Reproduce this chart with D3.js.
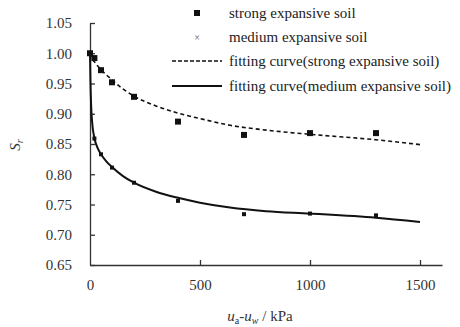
<!DOCTYPE html>
<html>
<head>
<meta charset="utf-8">
<script src="https://cdn.jsdelivr.net/npm/d3@7"></script>
<style>
  body { margin: 0; background: #fff; }
</style>
</head>
<body>
<div id="wrapper"></div>
<script>
// measured points (suction kPa, Sr)
const suction = [0, 20, 50, 100, 200, 400, 700, 1000, 1300];
const strongSr = [1.0, 0.992, 0.972, 0.952, 0.928, 0.887, 0.865, 0.868, 0.868];
const mediumSr = [1.0, 0.859, 0.833, 0.811, 0.786, 0.756, 0.734, 0.735, 0.732];

// fitting curves
const fitX = [0, 2, 5, 10, 20, 35, 50, 75, 100, 150, 200, 300, 400, 500, 636, 800, 1000, 1300, 1500];
const fitStrong = [1.0, 0.998, 0.995, 0.991, 0.986, 0.979, 0.973, 0.964, 0.956, 0.941, 0.929, 0.913, 0.901, 0.892, 0.881, 0.873, 0.866, 0.857, 0.849];
const fitMedium = [1.0, 0.955, 0.915, 0.885, 0.86, 0.843, 0.833, 0.821, 0.812, 0.797, 0.786, 0.771, 0.761, 0.753, 0.745, 0.739, 0.735, 0.728, 0.721];

const xTicks = [0, 500, 1000, 1500];
const yTicks = [0.65, 0.70, 0.75, 0.80, 0.85, 0.90, 0.95, 1.00, 1.05];
const legendLabels = ["strong expansive soil", "medium expansive soil",
  "fitting curve(strong expansive soil)", "fitting curve(medium expansive soil)"];

const serif = "'Liberation Serif', 'DejaVu Serif', serif";

var dimension = {
    width: 460,
    height: 327,
    margin: { top: 23, left: 90, bottom: 62, right: 18 }
};
dimension.boundedWidth = dimension.width - dimension.margin.left - dimension.margin.right;
dimension.boundedHeight = dimension.height - dimension.margin.top - dimension.margin.bottom;

const svg = d3.select("#wrapper").append("svg")
    .attr("width", dimension.width)
    .attr("height", dimension.height)
    .style("font-family", serif);
const bounded = svg.append("g")
    .attr("transform", `translate(${dimension.margin.left},${dimension.margin.top})`);

const xScaler = d3.scaleLinear().domain([0, 1600]).range([0, dimension.boundedWidth]);
const yScaler = d3.scaleLinear().domain([0.65, 1.05]).range([dimension.boundedHeight, 0]);

// axes with inward ticks
const xAxis = d3.axisBottom(xScaler).tickValues(xTicks).tickSizeInner(-5).tickSizeOuter(0)
    .tickPadding(14).tickFormat(d => d);
const yAxis = d3.axisLeft(yScaler).tickValues(yTicks).tickSizeInner(-5).tickSizeOuter(0)
    .tickPadding(18).tickFormat(d3.format(".2f"));

const gx = bounded.append("g")
    .attr("transform", `translate(0,${dimension.boundedHeight})`)
    .call(xAxis);
const gy = bounded.append("g").call(yAxis);
[gx, gy].forEach(g => {
    g.attr("font-family", null).attr("font-size", null);
    g.selectAll("path, line").attr("stroke", "#333").attr("stroke-width", 1.3);
    g.selectAll("text").style("font-family", serif).style("font-size", "15px").attr("fill", "#333");
});
gx.selectAll(".tick").filter(d => d === 0).select("line").remove();

// fitting curves
const fitLine = d3.line()
    .x((d, i) => xScaler(fitX[i]))
    .y(d => yScaler(d))
    .curve(d3.curveMonotoneX);

bounded.append("path")
    .attr("d", fitLine(fitStrong))
    .attr("fill", "none").attr("stroke", "#111").attr("stroke-width", 1.6)
    .attr("stroke-dasharray", "4,3");
bounded.append("path")
    .attr("d", fitLine(fitMedium))
    .attr("fill", "none").attr("stroke", "#111").attr("stroke-width", 2);

// markers
bounded.selectAll(".strong").data(strongSr).join("rect")
    .attr("x", (d, i) => xScaler(suction[i]) - 3)
    .attr("y", d => yScaler(d) - 3)
    .attr("width", 6).attr("height", 6).attr("fill", "#111");
bounded.selectAll(".medium").data(mediumSr).join("rect")
    .attr("x", (d, i) => xScaler(suction[i]) - 2)
    .attr("y", d => yScaler(d) - 2)
    .attr("width", 4).attr("height", 4).attr("fill", "#111");

// legend
const legend = svg.append("g");
const rowY = [13, 37, 61, 86];
legend.selectAll("text.lab").data(legendLabels).join("text")
    .attr("x", 229).attr("y", (d, i) => rowY[i] + 5)
    .style("font-family", serif).style("font-size", "15px").attr("fill", "#222")
    .text(d => d);
legend.append("rect").attr("x", 194).attr("y", rowY[0] - 3).attr("width", 6).attr("height", 6).attr("fill", "#111");
legend.append("text").attr("x", 197).attr("y", rowY[1] + 3.5).attr("text-anchor", "middle")
    .style("font-size", "10px").attr("fill", "#555").text("×");
legend.append("line").attr("x1", 172).attr("x2", 222).attr("y1", rowY[2]).attr("y2", rowY[2])
    .attr("stroke", "#111").attr("stroke-width", 1.6).attr("stroke-dasharray", "4,2");
legend.append("line").attr("x1", 172).attr("x2", 222).attr("y1", rowY[3]).attr("y2", rowY[3])
    .attr("stroke", "#111").attr("stroke-width", 2);

// axis titles
const yTitle = svg.append("text")
    .attr("transform", "translate(20,145) rotate(-90)")
    .attr("text-anchor", "middle").attr("fill", "#333")
    .style("font-family", serif).style("font-size", "15px").style("font-style", "italic");
yTitle.append("tspan").text("S");
yTitle.append("tspan").attr("dy", 3).style("font-size", "10px").text("r");

const xTitle = svg.append("text")
    .attr("x", 260).attr("y", 321).attr("text-anchor", "middle").attr("fill", "#333")
    .style("font-family", serif).style("font-size", "15px");
xTitle.append("tspan").style("font-style", "italic").text("u");
xTitle.append("tspan").attr("dy", 3).style("font-size", "10px").text("a");
xTitle.append("tspan").attr("dy", -3).text("-");
xTitle.append("tspan").style("font-style", "italic").text("u");
xTitle.append("tspan").attr("dy", 3).style("font-size", "10px").style("font-style", "italic").text("w");
xTitle.append("tspan").attr("dy", -3).text(" / kPa");
</script>
</body>
</html>
